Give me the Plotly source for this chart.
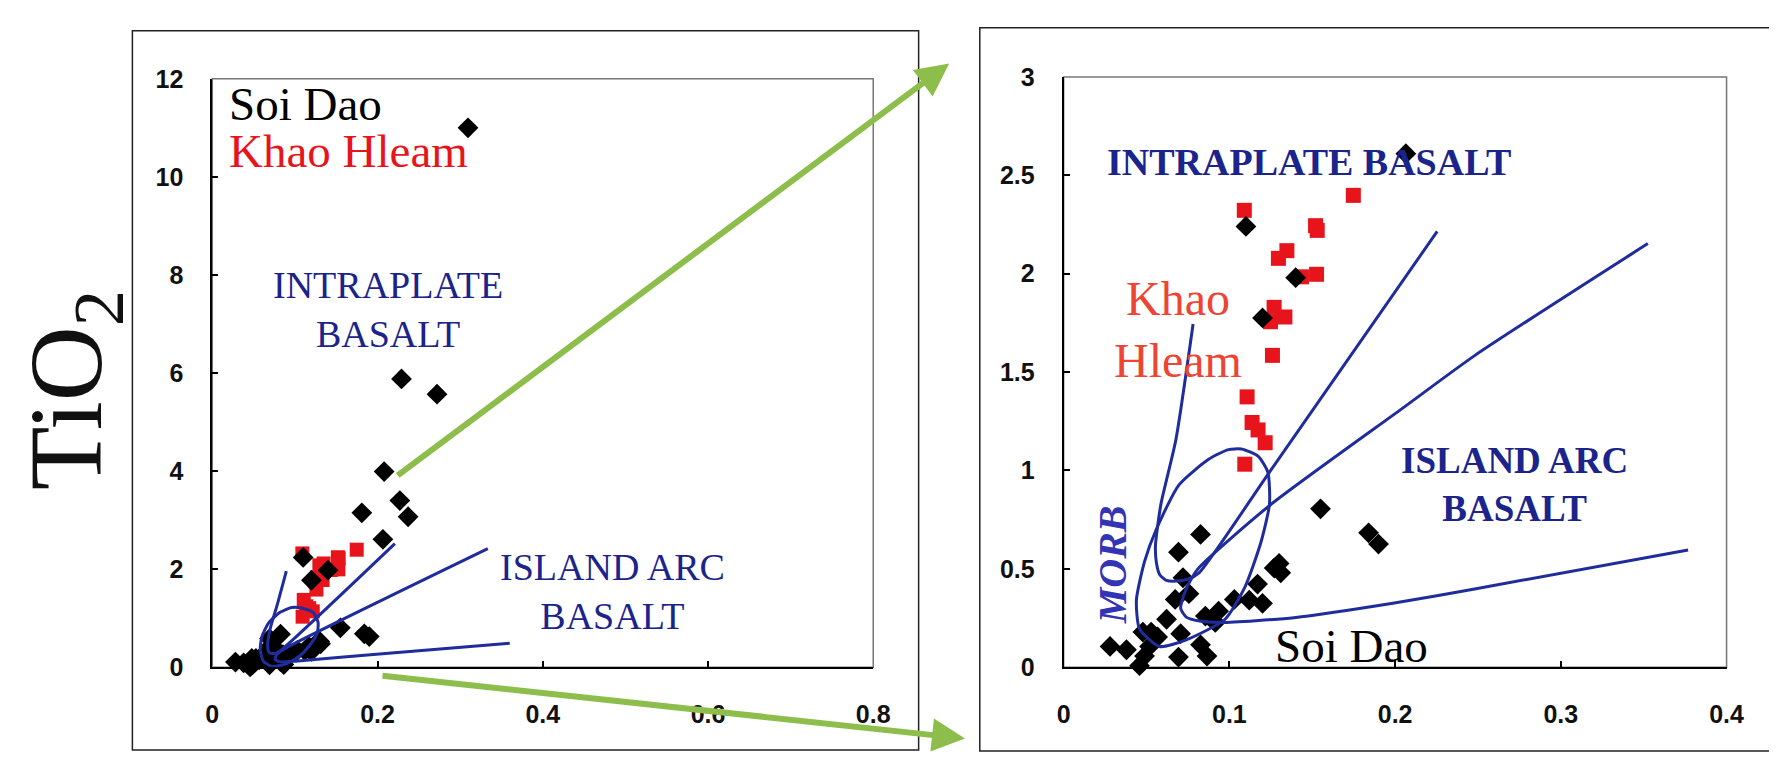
import numpy as np
import plotly.graph_objects as go

W, H = 1777, 759

# ---------------- data (P2O5 vs TiO2) ----------------
soi_dao_x = [0.3095, 0.229, 0.272, 0.208, 0.227, 0.237, 0.181, 0.2065, 0.110, 0.140,
             0.120, 0.155, 0.184, 0.190, 0.0826, 0.0693, 0.072, 0.0673, 0.0756, 0.130,
             0.127, 0.131, 0.117, 0.120, 0.112, 0.103, 0.0935, 0.0915, 0.0855, 0.0621,
             0.0706, 0.0478, 0.0528, 0.0567, 0.0518, 0.0488, 0.0458, 0.028, 0.0379, 0.0693,
             0.0826, 0.0865]
soi_dao_y = [11.0, 5.88, 5.57, 3.99, 3.40, 3.07, 3.15, 2.61, 2.24, 1.98,
             1.775, 0.805, 0.683, 0.626, 0.675, 0.585, 0.455, 0.345, 0.374, 0.528,
             0.504, 0.480, 0.423, 0.325, 0.341, 0.345, 0.285, 0.228, 0.260, 0.244,
             0.171, 0.179, 0.179, 0.154, 0.106, 0.057, 0.008, 0.106, 0.089, 0.052,
             0.114, 0.057]

khao_hleam_x = [0.109, 0.1748, 0.152, 0.153, 0.1347, 0.1296, 0.1435, 0.1526, 0.127,
                0.1335, 0.1248, 0.126, 0.1107, 0.1137, 0.1173, 0.1216, 0.1093]
khao_hleam_y = [2.322, 2.398, 2.244, 2.220, 2.117, 2.078, 1.984, 1.997, 1.829,
                1.780, 1.756, 1.585, 1.374, 1.244, 1.206, 1.141, 1.032]

# field boundaries, right (enlarged) panel
r_line1_x = [0.0781, 0.0677, 0.0587, 0.0554, 0.0560, 0.0580, 0.0620, 0.0680, 0.0750, 0.0817, 0.1242, 0.2254]
r_line1_y = [1.744, 1.155, 0.829, 0.618, 0.530, 0.470, 0.442, 0.438, 0.448, 0.480, 0.992, 2.215]
r_line2_x = [0.3525, 0.2482, 0.2046, 0.1253, 0.0810, 0.0740, 0.0706, 0.0740, 0.0820, 0.0954, 0.1390, 0.1986, 0.2480, 0.3768]
r_line2_y = [2.153, 1.585, 1.317, 0.829, 0.500, 0.400, 0.300, 0.255, 0.235, 0.228, 0.252, 0.325, 0.398, 0.596]
r_morb_x = [0.1073, 0.1173, 0.1232, 0.1242, 0.1190, 0.1093, 0.0974, 0.0736, 0.0577, 0.0458,
            0.0439, 0.0488, 0.0558, 0.0696, 0.0875, 0.0994, 0.1073]
r_morb_y = [1.109, 1.073, 0.992, 0.829, 0.634, 0.406, 0.244, 0.138, 0.106, 0.195,
            0.341, 0.537, 0.699, 0.927, 1.057, 1.106, 1.109]

# field boundaries, left (full) panel
l_line1_x = [0.0896, 0.0790, 0.0700, 0.0670, 0.0690, 0.0760, 0.0840, 0.2210]
l_line1_y = [1.96, 1.30, 0.78, 0.45, 0.30, 0.28, 0.36, 2.52]
l_line2_x = [0.3335, 0.0900, 0.0780, 0.0760, 0.0820, 0.1035, 0.1950, 0.3600]
l_line2_y = [2.42, 0.40, 0.26, 0.16, 0.11, 0.13, 0.26, 0.49]
l_morb_x = [0.108, 0.122, 0.128, 0.127, 0.118, 0.105, 0.088, 0.072, 0.062, 0.058, 0.060, 0.068, 0.082, 0.096, 0.108]
l_morb_y = [1.21, 1.12, 0.92, 0.70, 0.45, 0.22, 0.06, 0.02, 0.12, 0.35, 0.62, 0.90, 1.12, 1.22, 1.21]

left_xticks = [0, 0.2, 0.4, 0.6, 0.8]
left_xlabels = ["0", "0.2", "0.4", "0.6", "0.8"]
left_yticks = [0, 2, 4, 6, 8, 10, 12]
left_ylabels = ["0", "2", "4", "6", "8", "10", "12"]
right_xticks = [0, 0.1, 0.2, 0.3, 0.4]
right_xlabels = ["0", "0.1", "0.2", "0.3", "0.4"]
right_yticks = [0, 0.5, 1, 1.5, 2, 2.5, 3]
right_ylabels = ["0", "0.5", "1", "1.5", "2", "2.5", "3"]

# ---------------- style ----------------
RED = "#e8141c"
BLUE_LINE = "#1f2c9c"
NAVY = "#1b248a"
GREEN = "#8dbd4b"
SERIF = "Liberation Serif"
SANS = "Liberation Sans"

fig = go.Figure()

# left panel
fig.add_trace(go.Scatter(x=khao_hleam_x, y=khao_hleam_y, mode="markers", xaxis="x", yaxis="y",
                         marker=dict(symbol="square", size=14, color=RED, line=dict(width=0)),
                         cliponaxis=False, showlegend=False))
fig.add_trace(go.Scatter(x=soi_dao_x, y=soi_dao_y, mode="markers", xaxis="x", yaxis="y",
                         marker=dict(symbol="diamond", size=16, color="black", line=dict(width=0)),
                         cliponaxis=False, showlegend=False))
for xs, ys in [(l_line1_x, l_line1_y), (l_line2_x, l_line2_y), (l_morb_x, l_morb_y)]:
    fig.add_trace(go.Scatter(x=xs, y=ys, mode="lines", xaxis="x", yaxis="y",
                             line=dict(color=BLUE_LINE, width=3, shape="spline", smoothing=0.6),
                             showlegend=False))

# right panel (only the points inside its range)
kx, ky = np.array(khao_hleam_x), np.array(khao_hleam_y)
sx, sy = np.array(soi_dao_x), np.array(soi_dao_y)
km = (kx <= 0.4) & (ky <= 3)
sm = (sx <= 0.4) & (sy <= 3)
fig.add_trace(go.Scatter(x=kx[km], y=ky[km], mode="markers", xaxis="x2", yaxis="y2",
                         marker=dict(symbol="square", size=15, color=RED, line=dict(width=0)),
                         cliponaxis=False, showlegend=False))
fig.add_trace(go.Scatter(x=sx[sm], y=sy[sm], mode="markers", xaxis="x2", yaxis="y2",
                         marker=dict(symbol="diamond", size=16, color="black", line=dict(width=0)),
                         cliponaxis=False, showlegend=False))
for xs, ys in [(r_line1_x, r_line1_y), (r_line2_x, r_line2_y), (r_morb_x, r_morb_y)]:
    fig.add_trace(go.Scatter(x=xs, y=ys, mode="lines", xaxis="x2", yaxis="y2",
                             line=dict(color=BLUE_LINE, width=3, shape="spline", smoothing=0.6),
                             showlegend=False))

axis_common = dict(showgrid=False, zeroline=False, showline=True, linecolor="black", linewidth=2,
                   ticks="inside", ticklen=6, tickwidth=1.5, tickcolor="black",
                   tickfont=dict(family=SANS, size=25, color="#111", weight="bold"))

fig.update_layout(
    width=W, height=H, margin=dict(l=0, r=0, t=0, b=0),
    paper_bgcolor="white", plot_bgcolor="white",
    xaxis=dict(domain=[200 / W, 870 / W], range=[0, 0.8], anchor="y",
               tickvals=left_xticks, ticktext=left_xlabels, ticklabelstandoff=24, **axis_common),
    yaxis=dict(domain=[1 - 670 / H, 1 - 59 / H], range=[0, 12], anchor="x",
               tickvals=left_yticks, ticktext=left_ylabels, ticklabelstandoff=22, **axis_common),
    xaxis2=dict(domain=[1063 / W, 1735 / W], range=[0, 0.4], anchor="y2",
                tickvals=right_xticks, ticktext=right_xlabels, ticklabelstandoff=24, **axis_common),
    yaxis2=dict(domain=[1 - 670 / H, 1 - 57 / H], range=[0, 3], anchor="x2",
                tickvals=right_yticks, ticktext=right_ylabels, ticklabelstandoff=22, **axis_common),
)

shapes = [
    # thin frames around plot areas
    dict(type="rect", xref="x domain", yref="y domain", x0=0, x1=1, y0=0, y1=1,
         line=dict(color="#777", width=1.5), layer="below"),
    dict(type="rect", xref="x2 domain", yref="y2 domain", x0=0, x1=1, y0=0, y1=1,
         line=dict(color="#777", width=1.5), layer="below"),
    # outer panel boxes
    dict(type="rect", xref="paper", yref="paper", x0=119 / W, x1=916 / W, y0=1 - 756 / H, y1=1 - 9 / H,
         line=dict(color="#222", width=1.5), layer="below"),
    dict(type="rect", xref="paper", yref="paper", x0=978 / W, x1=1.02, y0=1 - 757 / H, y1=1 - 6 / H,
         line=dict(color="#222", width=1.5), layer="below"),
]
fig.update_layout(shapes=shapes)

ann = []
# left panel labels
ann.append(dict(x=0.018, y=11.48, xref="x", yref="y", text="Soi Dao", showarrow=False,
                xanchor="left", yanchor="middle", font=dict(family=SERIF, size=47, color="black")))
ann.append(dict(x=0.018, y=10.52, xref="x", yref="y", text="Khao Hleam", showarrow=False,
                xanchor="left", yanchor="middle", font=dict(family=SERIF, size=47, color=RED)))
ann.append(dict(x=0.2130, y=7.30, xref="x", yref="y", text="INTRAPLATE<br>BASALT", showarrow=False,
                xanchor="center", yanchor="middle", align="center",
                font=dict(family=SERIF, size=38, color=NAVY)))
ann.append(dict(x=0.4845, y=1.55, xref="x", yref="y", text="ISLAND ARC<br>BASALT", showarrow=False,
                xanchor="center", yanchor="middle", align="center",
                font=dict(family=SERIF, size=38, color=NAVY)))
# right panel labels
ann.append(dict(x=0.1479, y=2.57, xref="x2", yref="y2", text="<b>INTRAPLATE BASALT</b>", showarrow=False,
                xanchor="center", yanchor="middle", font=dict(family=SERIF, size=38, color=NAVY)))
ann.append(dict(x=0.069, y=1.715, xref="x2", yref="y2", text="Khao<br>Hleam", showarrow=False,
                xanchor="center", yanchor="middle", align="center",
                font=dict(family=SERIF, size=48, color="#ee4433")))
ann.append(dict(x=0.272, y=0.93, xref="x2", yref="y2", text="<b>ISLAND ARC<br>BASALT</b>", showarrow=False,
                xanchor="center", yanchor="middle", align="center",
                font=dict(family=SERIF, size=37, color=NAVY)))
ann.append(dict(x=0.030, y=0.52, xref="x2", yref="y2", text="<b><i>MORB</i></b>", showarrow=False,
                textangle=-90, xanchor="center", yanchor="middle",
                font=dict(family=SERIF, size=40, color="#3333b5")))
ann.append(dict(x=0.1735, y=0.107, xref="x2", yref="y2", text="Soi Dao", showarrow=False,
                xanchor="center", yanchor="middle", font=dict(family=SERIF, size=47, color="black")))
# y-axis title
ann.append(dict(x=60 / W, y=1 - 382 / H, xref="paper", yref="paper", text="TiO<sub>2</sub>", showarrow=False,
                textangle=-90, xanchor="center", yanchor="middle",
                font=dict(family=SERIF, size=104, color="#111")))
# green arrows
ann.append(dict(x=947 / W, y=1 - 43 / H, xref="paper", yref="paper", ax=394 - 947, ay=456 - 43,
                axref="pixel", ayref="pixel", text="", showarrow=True, arrowhead=2, arrowsize=1.1,
                arrowwidth=6, arrowcolor=GREEN, standoff=0))
ann.append(dict(x=963 / W, y=1 - 744 / H, xref="paper", yref="paper", ax=379 - 963, ay=681 - 744,
                axref="pixel", ayref="pixel", text="", showarrow=True, arrowhead=2, arrowsize=1.1,
                arrowwidth=6, arrowcolor=GREEN, standoff=0))
fig.update_layout(annotations=ann)

fig.write_html("out.html")
